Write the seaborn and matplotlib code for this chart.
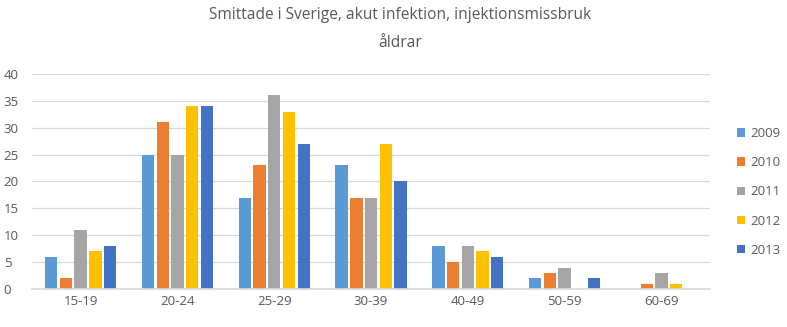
import matplotlib
matplotlib.use("Agg")
import matplotlib.pyplot as plt
import seaborn as sns
import pandas as pd
from matplotlib.patches import Patch

categories = ["15-19", "20-24", "25-29", "30-39", "40-49", "50-59", "60-69"]
years = ["2009", "2010", "2011", "2012", "2013"]
v2009 = [6, 25, 17, 23, 8, 2, 0]
v2010 = [2, 31, 23, 17, 5, 3, 1]
v2011 = [11, 25, 36, 17, 8, 4, 3]
v2012 = [7, 34, 33, 27, 7, 0, 1]
v2013 = [8, 34, 27, 20, 6, 2, 0]
colors = ["#5B9BD5", "#ED7D31", "#A5A5A5", "#FFC000", "#4472C4"]

series = [v2009, v2010, v2011, v2012, v2013]
rows = []
for y, vals in zip(years, series):
    for c, v in zip(categories, vals):
        rows.append({"age": c, "year": y, "value": v})
df = pd.DataFrame(rows)

sns.set_theme(style="white")
plt.rcParams['font.family'] = ['Open Sans', 'DejaVu Sans']

fig = plt.figure(figsize=(7.87, 3.27), dpi=100)
ax = fig.add_axes([0.041, 0.116, 0.861, 0.658])
sns.barplot(data=df, x="age", y="value", hue="year", order=categories,
            hue_order=years, palette=colors, width=0.76, gap=0.16,
            saturation=1, ax=ax, legend=False, errorbar=None, linewidth=0)

ax.set_ylim(0, 40)
ax.set_yticks(range(0, 41, 5))
ax.set_xlim(-0.5, len(categories) - 0.5)
ax.set_xlabel("")
ax.set_ylabel("")
ax.yaxis.grid(True, color="#D9D9D9", linewidth=0.9)
ax.set_axisbelow(True)
for s in ["top", "right", "left"]:
    ax.spines[s].set_visible(False)
ax.spines["bottom"].set_color("#D9D9D9")
ax.tick_params(axis="both", length=0, labelsize=9.5, colors="#595959")
ax.tick_params(axis="x", pad=4)
ax.tick_params(axis="y", pad=20.5)
for lab in ax.get_yticklabels():
    lab.set_horizontalalignment("left")

fig.text(0.508, 0.953, "Smittade i Sverige, akut infektion, injektionsmissbruk",
         ha="center", va="center", fontsize=11.2, color="#595959")
fig.text(0.508, 0.87, "åldrar", ha="center", va="center", fontsize=11.2,
         color="#595959")

handles = [Patch(facecolor=c, edgecolor="none") for c in colors]
leg = fig.legend(handles, years, loc="center left", bbox_to_anchor=(0.936, 0.413),
                 frameon=False, fontsize=9.5, labelcolor="#595959",
                 handlelength=0.6, handleheight=0.6, handletextpad=0.4,
                 labelspacing=1.23, borderaxespad=0, borderpad=0)

fig.savefig("out.png", dpi=100)
